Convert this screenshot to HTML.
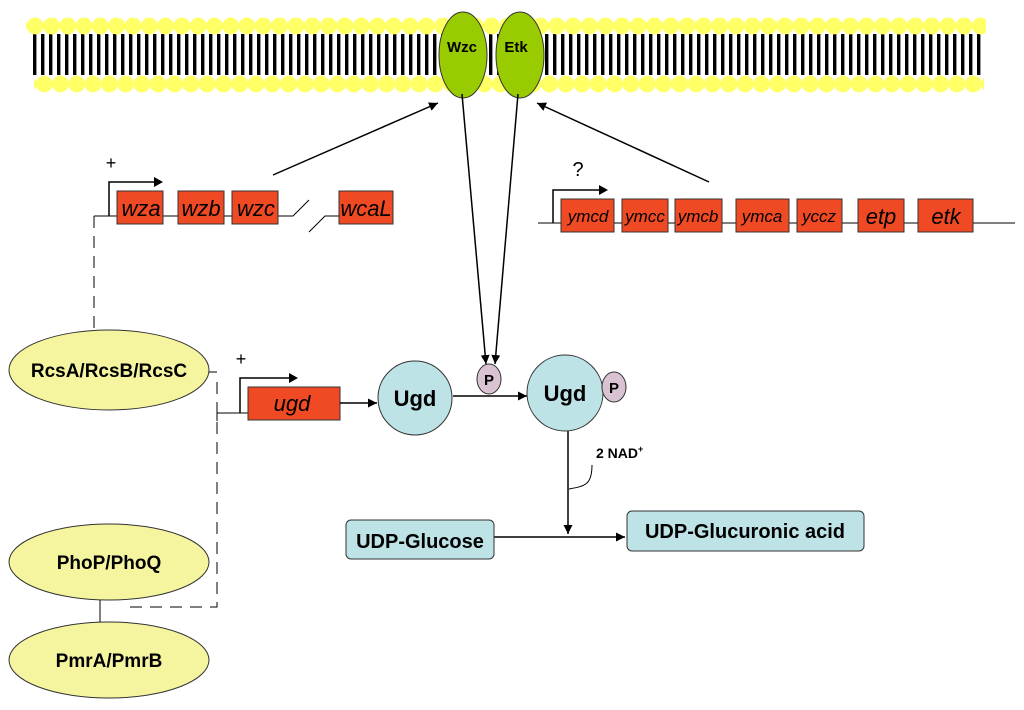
<!DOCTYPE html>
<html><head><meta charset="utf-8"><style>
html,body{margin:0;padding:0;background:#fff;}
svg{display:block;font-family:"Liberation Sans",Arial,sans-serif;}
</style></head><body>
<svg width="1024" height="710" viewBox="0 0 1024 710" xmlns="http://www.w3.org/2000/svg">
<defs>
<pattern id="tails" x="33" y="0" width="8" height="710" patternUnits="userSpaceOnUse"><rect x="0" y="0" width="3.4" height="710" fill="#000"/></pattern>
<pattern id="heads" x="27" y="0" width="16.3" height="710" patternUnits="userSpaceOnUse"><circle cx="8.15" cy="26" r="8.4" fill="#ffff66"/></pattern>
<pattern id="heads2" x="36" y="0" width="16.3" height="710" patternUnits="userSpaceOnUse"><circle cx="8.15" cy="84" r="8.4" fill="#ffff66"/></pattern>
<marker id="ah" viewBox="0 0 10 10" refX="10" refY="5" markerWidth="9" markerHeight="9" markerUnits="userSpaceOnUse" orient="auto"><path d="M0,0L10,5L0,10z" fill="#000"/></marker>
</defs>
<!-- membrane -->
<rect x="32" y="34" width="950" height="41" fill="url(#tails)"/>
<rect x="26" y="16" width="960" height="20" fill="url(#heads)"/>
<rect x="34" y="74" width="950" height="20" fill="url(#heads2)"/>
<ellipse cx="463" cy="55" rx="24" ry="43" fill="#99cc00" stroke="#333" stroke-width="1"/>
<ellipse cx="520" cy="55" rx="24" ry="43" fill="#99cc00" stroke="#333" stroke-width="1"/>
<text x="462" y="52" font-size="15" font-weight="bold" text-anchor="middle">Wzc</text>
<text x="516" y="52" font-size="15" font-weight="bold" text-anchor="middle">Etk</text>

<g stroke="#000" stroke-width="1.5" fill="none">
<line x1="273" y1="175" x2="438" y2="103" marker-end="url(#ah)"/>
<line x1="709" y1="182" x2="537" y2="103" marker-end="url(#ah)"/>
<line x1="462" y1="94" x2="486" y2="364" marker-end="url(#ah)"/>
<line x1="518" y1="94" x2="495" y2="364" marker-end="url(#ah)"/>
</g>

<!-- left operon -->
<g stroke="#000" stroke-width="1" fill="none">
<line x1="94" y1="216" x2="117" y2="216"/>
<line x1="163" y1="216" x2="178" y2="216"/>
<line x1="224" y1="216" x2="232" y2="216"/>
<polyline points="278,216 293,216 309,200"/>
<polyline points="309,232 325,216 339,216"/>
<path d="M94,216 V330" stroke-dasharray="12,8"/>
</g>
<polyline points="109,216 109,182 155,182" fill="none" stroke="#000" stroke-width="1.5"/>
<path d="M154,177 L163,182 L154,187z" fill="#000"/>
<text x="111" y="169" font-size="18" text-anchor="middle">+</text>
<g fill="#f04a24" stroke="#333" stroke-width="1">
<rect x="117" y="191" width="46" height="33"/>
<rect x="178" y="191" width="46" height="33"/>
<rect x="232" y="191" width="46" height="33"/>
<rect x="339" y="191" width="54" height="33"/>
</g>
<g font-size="22" font-style="italic" text-anchor="middle">
<text x="141" y="216">wza</text><text x="201" y="216">wzb</text><text x="256" y="216">wzc</text><text x="366" y="216">wcaL</text>
</g>

<!-- right operon -->
<line x1="538" y1="223" x2="1015" y2="223" stroke="#000" stroke-width="1"/>
<polyline points="553,223 553,190 600,190" fill="none" stroke="#000" stroke-width="1.5"/>
<path d="M599,185 L608,190 L599,195z" fill="#000"/>
<text x="578" y="176" font-size="20" text-anchor="middle">?</text>
<g fill="#f04a24" stroke="#333" stroke-width="1">
<rect x="561" y="199" width="53" height="33"/>
<rect x="622" y="199" width="46" height="33"/>
<rect x="675" y="199" width="47" height="33"/>
<rect x="736" y="199" width="53" height="33"/>
<rect x="797" y="199" width="45" height="33"/>
<rect x="858" y="199" width="46" height="33"/>
<rect x="918" y="199" width="55" height="33"/>
</g>
<g font-style="italic" text-anchor="middle">
<text x="588" y="222" font-size="17">ymcd</text><text x="645" y="222" font-size="17">ymcc</text><text x="698" y="222" font-size="17">ymcb</text><text x="762" y="222" font-size="17">ymca</text><text x="819" y="222" font-size="17">yccz</text>
<text x="881" y="224" font-size="22">etp</text><text x="946" y="224" font-size="22">etk</text>
</g>

<!-- regulators -->
<g fill="#f5f5a0" stroke="#333" stroke-width="1">
<ellipse cx="109" cy="370" rx="100" ry="40"/>
<ellipse cx="109" cy="562" rx="100" ry="38"/>
<ellipse cx="109" cy="660" rx="100" ry="38"/>
</g>
<g font-size="19" font-weight="bold" text-anchor="middle">
<text x="109" y="377">RcsA/RcsB/RcsC</text>
<text x="109" y="569">PhoP/PhoQ</text>
<text x="109" y="667">PmrA/PmrB</text>
</g>
<g stroke="#000" stroke-width="1" fill="none">
<line x1="100" y1="600" x2="100" y2="622"/>
<line x1="209" y1="372" x2="217" y2="372"/>
<path d="M217,382 V607 H125" stroke-dasharray="12,8"/>
<line x1="217" y1="413" x2="248" y2="413"/>
<line x1="217" y1="405" x2="217" y2="421"/>
</g>
<polyline points="240,413 240,378 290,378" fill="none" stroke="#000" stroke-width="1.5"/>
<path d="M289,373 L298,378 L289,383z" fill="#000"/>
<text x="241" y="365" font-size="18" text-anchor="middle">+</text>
<rect x="248" y="387" width="92" height="33" fill="#f04a24" stroke="#333"/>
<text x="292" y="411" font-size="22" font-style="italic" text-anchor="middle">ugd</text>

<g stroke="#000" stroke-width="1.5" fill="none">
<line x1="340" y1="403" x2="377" y2="403" marker-end="url(#ah)"/>
<line x1="453" y1="396" x2="527" y2="396" marker-end="url(#ah)"/>
<line x1="568" y1="430" x2="568" y2="534" marker-end="url(#ah)"/>
<line x1="494" y1="537" x2="625" y2="537" marker-end="url(#ah)"/>
</g>
<path d="M592,465 C592,485 585,486 569,489" fill="none" stroke="#000" stroke-width="1"/>
<circle cx="415" cy="398" r="37" fill="#bde3e6" stroke="#333"/>
<text x="415" y="406" font-size="22" font-weight="bold" text-anchor="middle">Ugd</text>
<ellipse cx="489" cy="379" rx="12" ry="15" fill="#d9c3d3" stroke="#333"/>
<text x="489" y="385" font-size="15" font-weight="bold" text-anchor="middle">P</text>
<circle cx="565" cy="393" r="38" fill="#bde3e6" stroke="#333"/>
<text x="565" y="401" font-size="22" font-weight="bold" text-anchor="middle">Ugd</text>
<ellipse cx="614" cy="387" rx="12" ry="15" fill="#d9c3d3" stroke="#333"/>
<text x="614" y="393" font-size="15" font-weight="bold" text-anchor="middle">P</text>
<text x="596" y="458" font-size="14" font-weight="bold">2 NAD<tspan font-size="9" dy="-6">+</tspan></text>

<rect x="346" y="520" width="148" height="39" rx="5" fill="#bde3e6" stroke="#333"/>
<text x="420" y="548" font-size="20" font-weight="bold" text-anchor="middle">UDP-Glucose</text>
<rect x="627" y="511" width="237" height="40" rx="5" fill="#bde3e6" stroke="#333"/>
<text x="745" y="538" font-size="20" font-weight="bold" text-anchor="middle">UDP-Glucuronic acid</text>
</svg>
</body></html>
